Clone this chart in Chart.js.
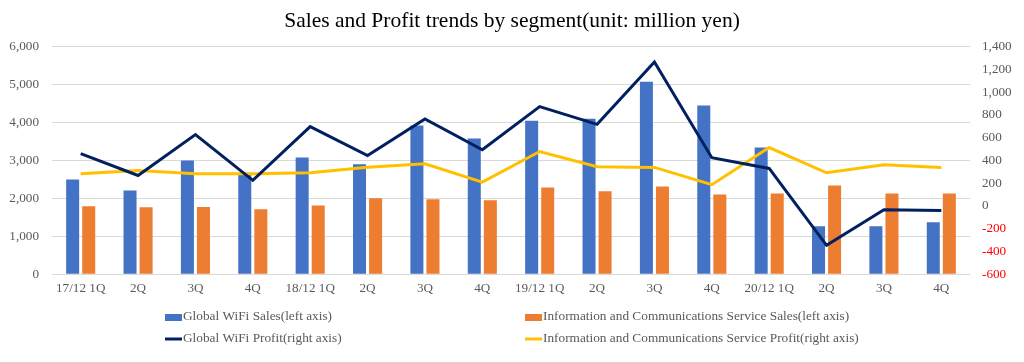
<!DOCTYPE html>
<html>
<head>
<meta charset="utf-8">
<script src="https://cdn.jsdelivr.net/npm/chart.js@4.4.1/dist/chart.umd.min.js"></script>
<style>
  html, body { margin: 0; padding: 0; background: #fff; }
  #wrap { width: 1024px; height: 362px; position: relative; }
</style>
</head>
<body>
<div id="wrap"><canvas id="chart"></canvas></div>
<script>
const categories = ['17/12 1Q', '2Q', '3Q', '4Q', '18/12 1Q', '2Q', '3Q', '4Q',
                    '19/12 1Q', '2Q', '3Q', '4Q', '20/12 1Q', '2Q', '3Q', '4Q'];

// left axis (million yen)
const wifiSales = [2500, 2210, 3000, 2650, 3080, 2900, 3920, 3580,
                   4050, 4100, 5080, 4450, 3340, 1265, 1265, 1370];
const icsSales = [1790, 1765, 1770, 1710, 1815, 2000, 1975, 1950,
                  2290, 2185, 2315, 2105, 2130, 2340, 2130, 2130];

// right axis (million yen)
const wifiProfit = [460, 268, 628, 225, 698, 444, 766, 494,
                    874, 718, 1266, 424, 330, -346, -33, -41];
const icsProfit = [283, 312, 283, 283, 292, 341, 371, 210,
                   479, 345, 339, 187, 514, 292, 362, 339];

const leftTicks = { min: 0, max: 6000, step: 1000 };
const rightTicks = { min: -600, max: 1400, step: 200 };

const FONT = '"Liberation Serif", "Times New Roman", serif';
const GREY = '#595959';

// legend drawn in two columns like the original
const legendGrid = {
    id: 'legendGrid',
    afterDraw(chart) {
        const ctx = chart.ctx;
        const cols = [165, 525];
        const rows = [317, 339];
        ctx.save();
        ctx.font = '13.3px ' + FONT;
        ctx.textBaseline = 'middle';
        chart.data.datasets.forEach((ds, i) => {
            const x = cols[i % 2];
            const y = rows[Math.floor(i / 2)];
            if (ds.type === 'line') {
                ctx.strokeStyle = ds.borderColor;
                ctx.lineWidth = 3;
                ctx.beginPath();
                ctx.moveTo(x, y);
                ctx.lineTo(x + 17, y);
                ctx.stroke();
            } else {
                ctx.fillStyle = ds.backgroundColor;
                ctx.fillRect(x, y - 3, 17, 7);
            }
            ctx.fillStyle = GREY;
            ctx.textAlign = 'left';
            ctx.fillText(ds.label, x + 18, y);
        });
        ctx.restore();
    }
};

new Chart(document.getElementById('chart'), {
    data: {
        labels: categories,
        datasets: [
            {
                type: 'bar',
                label: 'Global WiFi Sales(left axis)',
                data: wifiSales,
                backgroundColor: '#4472C4',
                yAxisID: 'y',
                order: 2,
                categoryPercentage: 0.56,
                barPercentage: 0.81
            },
            {
                type: 'bar',
                label: 'Information and Communications Service Sales(left axis)',
                data: icsSales,
                backgroundColor: '#ED7D31',
                yAxisID: 'y',
                order: 2,
                categoryPercentage: 0.56,
                barPercentage: 0.81
            },
            {
                type: 'line',
                label: 'Global WiFi Profit(right axis)',
                data: wifiProfit,
                borderColor: '#002060',
                backgroundColor: '#002060',
                borderWidth: 3,
                pointRadius: 0,
                tension: 0,
                yAxisID: 'y1',
                order: 0
            },
            {
                type: 'line',
                label: 'Information and Communications Service Profit(right axis)',
                data: icsProfit,
                borderColor: '#FFC000',
                backgroundColor: '#FFC000',
                borderWidth: 3,
                pointRadius: 0,
                tension: 0,
                yAxisID: 'y1',
                order: 1
            }
        ]
    },
    options: {
        responsive: true,
        maintainAspectRatio: false,
        animation: false,
        layout: {
            padding: { left: 0, right: 0, top: 0, bottom: 60 }
        },
        plugins: {
            legend: { display: false },
            tooltip: { enabled: false },
            title: {
                display: true,
                text: 'Sales and Profit trends by segment(unit: million yen)',
                color: '#000',
                font: { family: FONT, size: 21.5, weight: 'normal' },
                padding: { top: 8, bottom: 13 }
            }
        },
        scales: {
            x: {
                grid: { display: false, drawTicks: false },
                border: { display: false },
                ticks: {
                    color: GREY,
                    font: { family: FONT, size: 13.2 },
                    maxRotation: 0,
                    autoSkip: false,
                    padding: 6
                }
            },
            y: {
                position: 'left',
                min: leftTicks.min,
                max: leftTicks.max,
                grid: { color: '#D9D9D9', drawTicks: false },
                border: { display: false },
                ticks: {
                    stepSize: leftTicks.step,
                    color: GREY,
                    font: { family: FONT, size: 13.2 },
                    padding: 13,
                    callback: v => v.toLocaleString('en-US')
                },
                afterFit: s => { s.width = 52; }
            },
            y1: {
                position: 'right',
                min: rightTicks.min,
                max: rightTicks.max,
                grid: { display: false, drawTicks: false },
                border: { display: false },
                ticks: {
                    stepSize: rightTicks.step,
                    color: c => c.tick.value < 0 ? '#FF0000' : GREY,
                    font: { family: FONT, size: 13.2 },
                    padding: 12,
                    callback: v => v.toLocaleString('en-US')
                },
                afterFit: s => { s.width = 54; }
            }
        }
    },
    plugins: [legendGrid]
});
</script>
</body>
</html>
